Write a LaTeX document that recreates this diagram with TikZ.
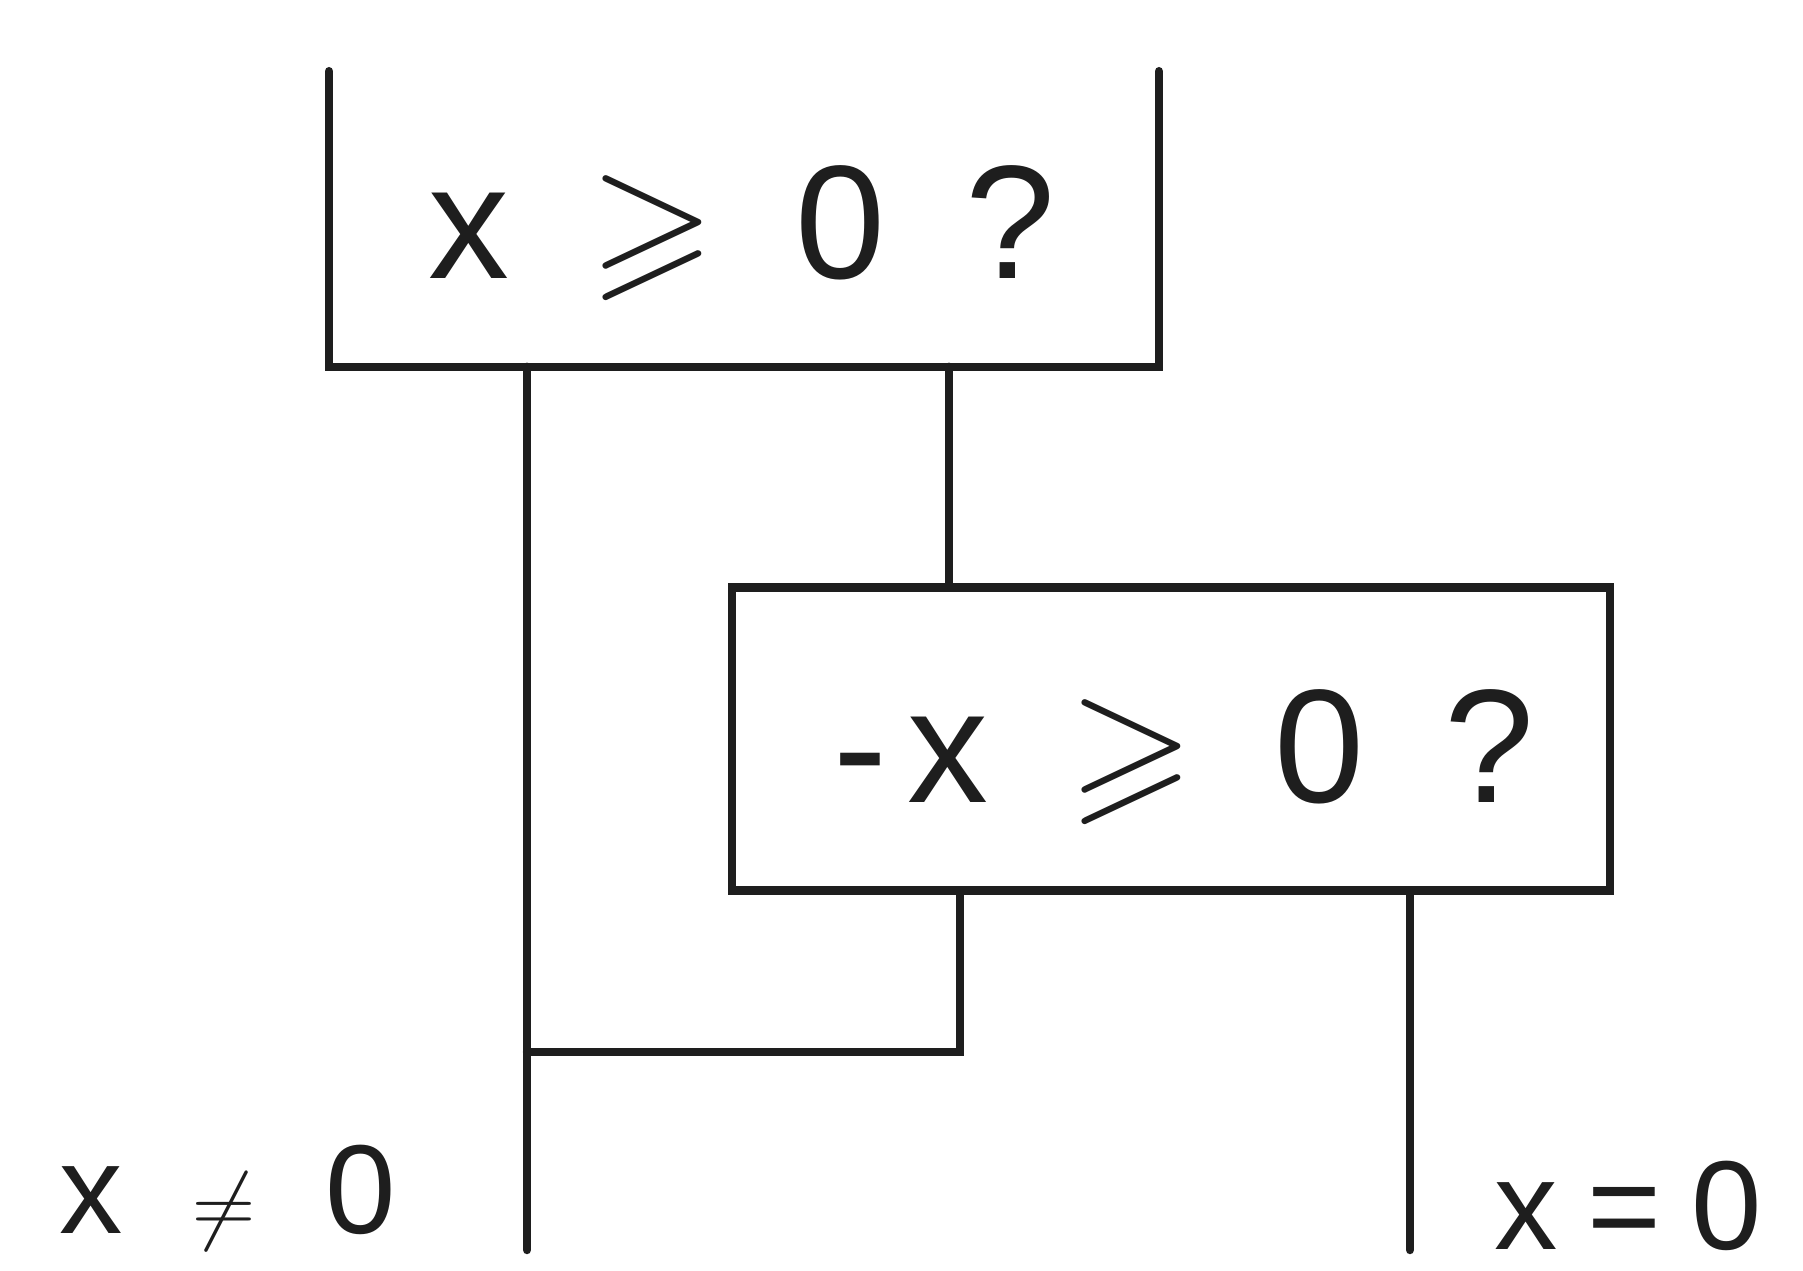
\documentclass[tikz,border=0pt]{standalone}
\usepackage{amssymb}
\usepackage{fontspec}
\setmainfont{Liberation Sans}
\usepackage{tikz}
\usetikzlibrary{positioning,calc}
\definecolor{pencil}{HTML}{1E1E1E}
\tikzset{
  pen/.style={draw=pencil,line width=2.4pt,line cap=round},
  qbox/.style={inner sep=0pt},
  qtext/.style={inner sep=0pt,align=center,text=pencil,
    font=\fontsize{46}{50}\selectfont},
  endtext/.style={inner sep=0pt,text=pencil,font=\fontsize{36}{40}\selectfont}
}

\begin{document}
\begin{tikzpicture}[x=0.01cm,y=-0.01cm]
  \useasboundingbox (0,0) rectangle (1803,1271);
  \node[qbox,minimum width=8.28cm,minimum height=2.94cm] (q1) at (744,219) {};
  \node[qbox,pen,minimum width=8.77cm,minimum height=3.03cm] (q2) at (1171,739) {};
  \node[qtext] (t1) at (742,233) {x\hspace{8mm}$\geqslant$\hspace{8mm}0\hspace{8mm}?};
  \node[qtext] (t2) at (1184,757) {-\hspace{2mm}x\hspace{8mm}$\geqslant$\hspace{8mm}0\hspace{8mm}?};
  \draw[pen] (q1.north west) -- (q1.south west) -- (q1.south east) -- (q1.north east);
  % branch ends
  \coordinate (lend) at (527,1250);
  \coordinate (rend) at (1410,1250);
  \coordinate (yes1) at (949,0);
  \coordinate (no2) at (960,1052);
  \draw[pen] (q1.south -| lend) -- (lend);
  \draw[pen] (q1.south -| yes1) -- (q2.north -| yes1);
  \draw[pen] (q2.south -| no2) -- (no2) -- (no2 -| lend);
  \draw[pen] (q2.south -| rend) -- (rend);
  \node[endtext] (neq) at (228,1198) {x\hspace{7mm}$\neq$\hspace{7mm}0};
  \node[endtext] (eq) at (1628,1206) {x\hspace{3mm}=\hspace{3mm}0};
\end{tikzpicture}
\end{document}
